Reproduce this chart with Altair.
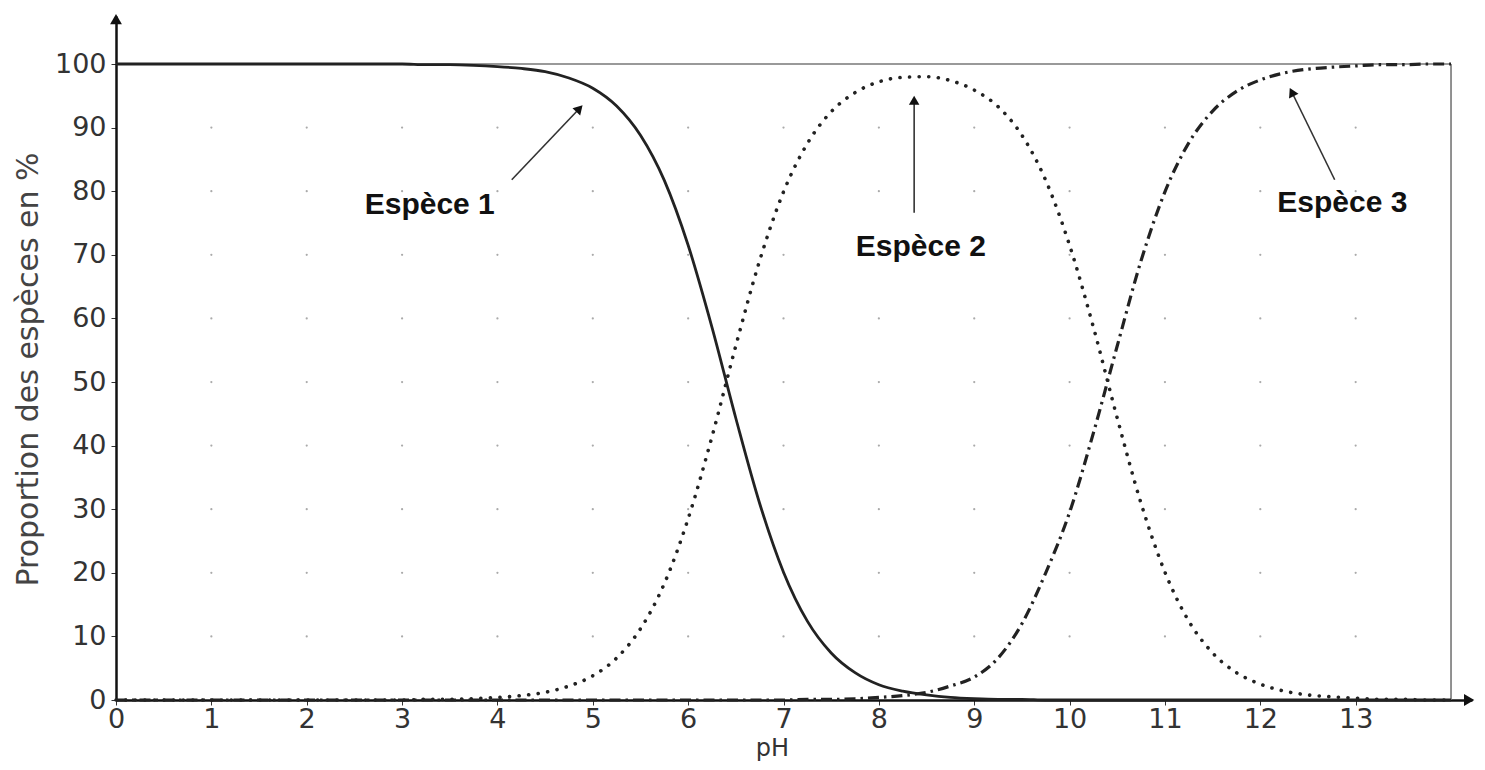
import altair as alt
import pandas as pd

# ---------------- data ----------------
ph = [0.0, 0.25, 0.5, 0.75, 1.0, 1.25, 1.5, 1.75, 2.0, 2.25, 2.5, 2.75,
      3.0, 3.25, 3.5, 3.75, 4.0, 4.25, 4.5, 4.75, 5.0, 5.25, 5.5, 5.75,
      6.0, 6.25, 6.5, 6.75, 7.0, 7.25, 7.5, 7.75, 8.0, 8.25, 8.5, 8.75,
      9.0, 9.25, 9.5, 9.75, 10.0, 10.25, 10.5, 10.75, 11.0, 11.25, 11.5, 11.75,
      12.0, 12.25, 12.5, 12.75, 13.0, 13.25, 13.5, 13.75, 14.0]

espece1 = [100, 100, 100, 100, 100, 100, 100, 100, 100, 100, 100, 100,
           100, 99.9, 99.9, 99.8, 99.6, 99.3, 98.8, 97.8, 96.2, 93.4, 88.8, 81.7,
           71.5, 58.6, 44.3, 30.9, 20.1, 12.4, 7.4, 4.3, 2.4, 1.4, 0.8, 0.4,
           0.2, 0.1, 0.1, 0, 0, 0, 0, 0, 0, 0, 0, 0,
           0, 0, 0, 0, 0, 0, 0, 0, 0]

espece2 = [0, 0, 0, 0, 0, 0, 0, 0, 0, 0, 0, 0,
           0, 0.1, 0.1, 0.2, 0.4, 0.7, 1.2, 2.2, 3.8, 6.6, 11.2, 18.3,
           28.5, 41.4, 55.7, 69.1, 79.9, 87.5, 92.5, 95.5, 97.2, 97.9, 98.0, 97.4,
           95.9, 93.3, 88.8, 81.7, 71.5, 58.6, 44.3, 30.9, 20.1, 12.4, 7.4, 4.3,
           2.5, 1.4, 0.8, 0.5, 0.3, 0.1, 0.1, 0, 0]

espece3 = [0, 0, 0, 0, 0, 0, 0, 0, 0, 0, 0, 0,
           0, 0, 0, 0, 0, 0, 0, 0, 0, 0, 0, 0,
           0, 0, 0, 0, 0, 0.1, 0.1, 0.2, 0.4, 0.7, 1.2, 2.2,
           3.6, 6.6, 12.0, 20.0, 29.5, 42.0, 55.7, 69.1, 79.9, 87.6, 92.6, 95.7,
           97.5, 98.6, 99.2, 99.5, 99.7, 99.9, 99.9, 100, 100]

x_ticks = list(range(0, 14))
y_ticks = list(range(0, 101, 10))

labels = ["Espèce 1", "Espèce 2", "Espèce 3"]
label_x = [3.29, 8.44, 12.86]
label_y = [77.8, 71.2, 78.1]
arrow_x_from = [4.15, 8.37, 12.78]
arrow_y_from = [81.8, 76.6, 81.8]
arrow_x_to = [4.86, 8.37, 12.33]
arrow_y_to = [93.0, 94.3, 95.6]
arrow_angle = [43, 0, 334]

# ---------------- chart ----------------
X_MAX = 14.22
Y_MAX = 107.55
FONT = "DejaVu Sans"

xs = alt.Scale(domain=[0, X_MAX], nice=False, zero=False)
ys = alt.Scale(domain=[0, Y_MAX], nice=False, zero=False)

df = pd.DataFrame({"pH": ph, "e1": espece1, "e2": espece2, "e3": espece3})

x_axis = alt.Axis(values=x_ticks, title="pH", grid=False, labelFlush=False,
                  labelOverlap=False, domainColor="#111", domainWidth=2.5,
                  tickColor="#333", tickSize=5, labelFont=FONT, labelFontSize=27,
                  labelColor="#333", labelPadding=1, titleFont=FONT,
                  titleFontSize=24, titleFontWeight="normal", titleColor="#333",
                  titleX=656, titleY=48, titleBaseline="middle")
y_axis = alt.Axis(values=y_ticks, title="Proportion des espèces en %", grid=False,
                  labelFlush=False, labelOverlap=False, domainColor="#111",
                  domainWidth=2.5, tickColor="#333", tickSize=5, labelFont=FONT,
                  labelFontSize=27, labelColor="#333", labelPadding=5,
                  titleFont=FONT, titleFontSize=30, titleFontWeight="normal",
                  titleColor="#444", titleX=-88, titleY=353, titleAngle=270,
                  titleBaseline="middle", titleAlign="center")


def X(field):
    return alt.X(field, scale=xs, axis=x_axis)


def Y(field):
    return alt.Y(field, scale=ys, axis=y_axis)


grid_df = pd.DataFrame([{"gx": gx, "gy": gy} for gx in range(1, 14) for gy in range(10, 100, 10)])
grid = alt.Chart(grid_df).mark_circle(size=5, color="#aaaaaa", opacity=1).encode(
    x=X("gx:Q"), y=Y("gy:Q"))

frame_df = pd.DataFrame({"fx": [0, 14], "fx2": [14, 14], "fy": [100, 0], "fy2": [100, 100]})
frame = alt.Chart(frame_df).mark_rule(color="#777777", strokeWidth=1.6).encode(
    x=X("fx:Q"), x2="fx2:Q", y=Y("fy:Q"), y2="fy2:Q")

base = alt.Chart(df)
line1 = base.mark_line(color="#222222", strokeWidth=2.8, interpolate="monotone").encode(
    x=X("pH:Q"), y=Y("e1:Q"))
line2 = base.mark_line(color="#222222", strokeWidth=3.6, interpolate="monotone",
                       strokeDash=[0.1, 9.5], strokeCap="round").encode(
    x=X("pH:Q"), y=Y("e2:Q"))
line3 = base.mark_line(color="#222222", strokeWidth=3.2, interpolate="monotone",
                       strokeDash=[11, 5, 2.5, 5]).encode(
    x=X("pH:Q"), y=Y("e3:Q"))

ann_df = pd.DataFrame({"label": labels, "lx": label_x, "ly": label_y,
                       "ax": arrow_x_from, "ay": arrow_y_from,
                       "bx": arrow_x_to, "by": arrow_y_to, "ang": arrow_angle})
arrows = alt.Chart(ann_df).mark_rule(color="#333333", strokeWidth=1.6).encode(
    x=X("ax:Q"), x2="bx:Q", y=Y("ay:Q"), y2="by:Q")
heads = alt.Chart(ann_df).mark_point(shape="triangle-up", filled=True, size=110,
                                      color="#111111", opacity=1).encode(
    x=X("bx:Q"), y=Y("by:Q"), angle=alt.Angle("ang:Q", scale=None))
texts = alt.Chart(ann_df).mark_text(font="Liberation Sans", fontSize=30, fontWeight="bold",
                                     color="#111111", align="center", baseline="middle").encode(
    x=X("lx:Q"), y=Y("ly:Q"), text="label:N")

axhead_df = pd.DataFrame({"hx": [0, X_MAX - 0.03], "hy": [Y_MAX - 0.5, 0], "ang": [0, 90]})
axheads = alt.Chart(axhead_df).mark_point(shape="triangle-up", filled=True, size=140,
                                           color="#111111", opacity=1).encode(
    x=X("hx:Q"), y=Y("hy:Q"), angle=alt.Angle("ang:Q", scale=None))

chart = alt.layer(grid, frame, line1, line2, line3, arrows, heads, texts, axheads).properties(
    width=1356, height=684,
    autosize=alt.AutoSizeParams(type="none"),
    padding={"left": 108, "top": 8, "right": 5, "bottom": 62},
    background="white",
).configure_view(stroke=None)

chart.save("out.html", embed_options={"renderer": "svg", "actions": False})
